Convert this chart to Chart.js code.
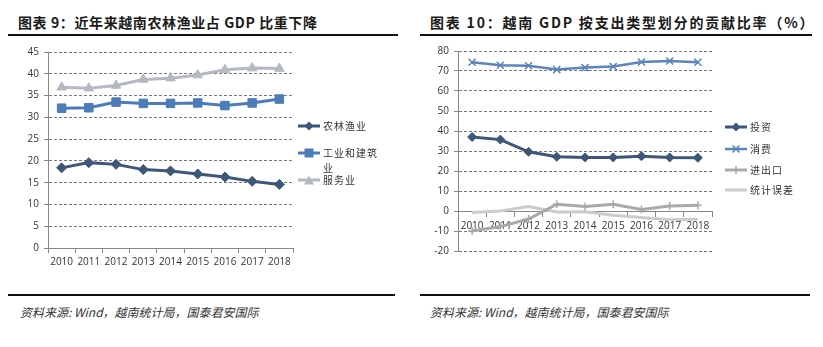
<!DOCTYPE html>
<html>
<head>
<meta charset="utf-8">
<script src="https://cdn.jsdelivr.net/npm/chart.js@4"></script>
<style>
  html, body { margin: 0; padding: 0; background: #fff; }
  body { width: 823px; height: 347px; position: relative; overflow: hidden;
         font-family: "Noto Sans CJK SC", sans-serif; color: #222; }
  .title { position: absolute; top: 12px; font-size: 14px; font-weight: bold; white-space: nowrap; color: #1a1a1a; }
  .rule  { position: absolute; background: #111; }
  .src   { position: absolute; top: 303px; font-size: 12px; font-style: italic; white-space: nowrap; color: #333; }
  .box   { position: absolute; }
  .legend { position: absolute; width: 100px; height: 220px; font-size: 10px; color: #333; letter-spacing: 1px; }
  .legend .item { position: absolute; left: 0; display: flex; align-items: flex-start; }
  .legend svg { flex: none; margin-right: 3px; }
  .legend span { line-height: 15px; margin-top: -3px; }
</style>
</head>
<body>
<div class="title" style="left:18px; letter-spacing:0.6px;">图表 9：近年来越南农林渔业占 GDP 比重下降</div>
<div class="rule" style="left:8px; top:34px; width:390px; height:2px;"></div>
<div class="title" style="left:430px; letter-spacing:1.8px;">图表 10：越南 GDP 按支出类型划分的贡献比率（%）</div>
<div class="rule" style="left:420px; top:34px; width:392px; height:2px;"></div>

<div class="box" style="left:0; top:40px; width:410px; height:235px;"><canvas id="c1"></canvas></div>
<div class="box" style="left:410px; top:40px; width:413px; height:235px;"><canvas id="c2"></canvas></div>

<div class="legend" id="lg1"></div>
<div class="legend" id="lg2"></div>

<div class="rule" style="left:8px; top:294px; width:387px; height:1.5px;"></div>
<div class="rule" style="left:420px; top:294px; width:390px; height:1.5px;"></div>
<div class="src" style="left:20px;">资料来源: Wind，越南统计局，国泰君安国际</div>
<div class="src" style="left:430px;">资料来源: Wind，越南统计局，国泰君安国际</div>

<script>
// Years shared by both charts
const years = ['2010', '2011', '2012', '2013', '2014', '2015', '2016', '2017', '2018'];

// Chart 9: share of GDP by sector (%)
const agriculture = [18.4, 19.6, 19.2, 18.0, 17.7, 17.0, 16.3, 15.3, 14.6];
const industry    = [32.1, 32.2, 33.5, 33.2, 33.2, 33.3, 32.7, 33.3, 34.2];
const services    = [36.9, 36.7, 37.3, 38.7, 39.0, 39.7, 40.9, 41.3, 41.2];
const sectorNames = ['农林渔业', '工业和建筑业', '服务业'];

// Chart 10: contribution to GDP by expenditure type (%)
const investment  = [37.0, 35.7, 29.6, 27.1, 26.8, 26.8, 27.4, 26.8, 26.6];
const consumption = [74.4, 72.9, 72.6, 70.7, 71.7, 72.2, 74.5, 75.0, 74.4];
const netExports  = [-10.0, -7.8, -4.0, 3.4, 2.2, 3.4, 0.8, 2.5, 2.9];
const statError   = [-0.8, 0.0, 2.2, -0.5, -0.4, -2.1, -3.2, -4.4, -4.1];
const expenditureNames = ['投资', '消费', '进出口', '统计误差'];

const TICK_FONT = { family: '"Open Sans", sans-serif', size: 10 };
const TICK_COLOR = '#333';

function yScale(min, max, step) {
  return {
    min: min, max: max,
    ticks: { stepSize: step, color: TICK_COLOR, font: TICK_FONT, padding: 5 },
    grid: { color: '#7a7a7a', lineWidth: 1, tickLength: 4, tickColor: '#888', drawTicks: true, tickBorderDash: [] },
    border: { display: true, color: '#888', width: 1, dash: [3, 2] },
    afterFit(scale) { scale.width = 48; }
  };
}

function xScale(extra) {
  return Object.assign({
    offset: true,
    ticks: { color: TICK_COLOR, font: TICK_FONT, padding: 3, maxRotation: 0, autoSkip: false },
    grid: { offset: true, drawOnChartArea: false, tickLength: 5, tickColor: '#888' },
    border: { display: true, color: '#888', width: 1 }
  }, extra || {});
}

function series(label, data, color, style, radius, width) {
  return {
    label, data,
    borderColor: color, backgroundColor: color,
    borderWidth: width, pointStyle: style || false,
    pointRadius: style ? radius : 0, pointBorderWidth: style === 'crossRot' || style === 'cross' ? 1.5 : 1,
    pointBorderColor: color, pointBackgroundColor: color,
    tension: 0, fill: false
  };
}

const baseOptions = {
  responsive: true, maintainAspectRatio: false, animation: false,
  plugins: { legend: { display: false }, tooltip: { enabled: false } }
};

new Chart(document.getElementById('c1'), {
  type: 'line',
  data: {
    labels: years,
    datasets: [
      series(sectorNames[0], agriculture, '#3d5779', 'rectRot', 5, 3),
      series(sectorNames[1], industry,    '#4b7cb8', 'rect', 6, 3),
      series(sectorNames[2], services,    '#b5b9c4', 'triangle', 5.5, 3)
    ]
  },
  options: Object.assign({}, baseOptions, {
    layout: { padding: { top: 12, right: 117, left: 0, bottom: 0 } },
    scales: {
      x: xScale({ afterFit(scale) { scale.height = 27; } }),
      y: yScale(0, 45, 5)
    }
  })
});

new Chart(document.getElementById('c2'), {
  type: 'line',
  data: {
    labels: years,
    datasets: [
      series(expenditureNames[0], investment,  '#3d5779', 'rectRot', 4.5, 3),
      series(expenditureNames[1], consumption, '#5a84ba', 'crossRot', 5, 2.5),
      series(expenditureNames[2], netExports,  '#a9a9a9', 'cross', 4, 3),
      series(expenditureNames[3], statError,   '#cbcbd1', null, 0, 3)
    ]
  },
  options: Object.assign({}, baseOptions, {
    layout: { padding: { top: 9, right: 111, left: 0, bottom: 24 } },
    scales: {
      x: xScale({ position: { y: 0 }, ticks: { color: TICK_COLOR, font: TICK_FONT, padding: 4, maxRotation: 0, autoSkip: false } }),
      y: yScale(-20, 80, 10)
    }
  })
});

// Legend swatches: short line with the series marker in the middle
function swatch(color, marker, width) {
  let m = '';
  if (marker === 'diamond') m = `<polygon points="11,0.5 15.5,5 11,9.5 6.5,5" fill="${color}"/>`;
  if (marker === 'square')  m = `<rect x="6.5" y="0.5" width="9" height="9" fill="${color}"/>`;
  if (marker === 'triangle') m = `<polygon points="11,0.5 16,9.5 6,9.5" fill="${color}"/>`;
  if (marker === 'x') m = `<path d="M7.5,1.5 L14.5,8.5 M14.5,1.5 L7.5,8.5" stroke="${color}" stroke-width="1.5"/>`;
  if (marker === 'plus') m = `<path d="M11,1 L11,9 M7,5 L15,5" stroke="${color}" stroke-width="1.5"/>`;
  return `<svg width="22" height="10" viewBox="0 0 22 10"><line x1="0" y1="5" x2="22" y2="5" stroke="${color}" stroke-width="${width}"/>${m}</svg>`;
}

function buildLegend(el, left, items) {
  el.style.left = left + 'px';
  el.style.top = '0px';
  el.innerHTML = items.map(it =>
    `<div class="item" style="top:${it.top - 5}px;">${swatch(it.color, it.marker, it.width)}` +
    `<span style="${it.textWidth ? 'width:' + it.textWidth + ';white-space:normal;' : 'white-space:nowrap;'}">${it.name}</span></div>`
  ).join('');
}

buildLegend(document.getElementById('lg1'), 298, [
  { name: sectorNames[0], color: '#3d5779', marker: 'diamond', width: 3, top: 126 },
  { name: sectorNames[1], color: '#4b7cb8', marker: 'square', width: 3, top: 153, textWidth: '58px' },
  { name: sectorNames[2], color: '#b5b9c4', marker: 'triangle', width: 3, top: 180 }
]);

buildLegend(document.getElementById('lg2'), 725, [
  { name: expenditureNames[0], color: '#3d5779', marker: 'diamond', width: 3, top: 127 },
  { name: expenditureNames[1], color: '#5a84ba', marker: 'x', width: 2.5, top: 149 },
  { name: expenditureNames[2], color: '#a9a9a9', marker: 'plus', width: 3, top: 170 },
  { name: expenditureNames[3], color: '#cbcbd1', marker: null, width: 3, top: 190 }
]);
</script>
</body>
</html>
